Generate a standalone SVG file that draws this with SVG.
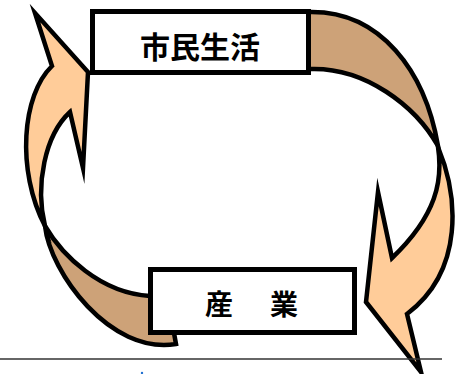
<svg xmlns="http://www.w3.org/2000/svg" width="455" height="374" viewBox="0 0 455 374">
<style>
.edge{stroke:#000;stroke-width:4.5;stroke-linejoin:miter;stroke-miterlimit:10}
.back{fill:#CDA278}
.front{fill:#FFCC99}
.box{fill:#fff;stroke:#000;stroke-width:5}
.lbl{font-family:"Noto Sans CJK JP","Noto Sans CJK SC",sans-serif;font-weight:bold;fill:#000}
</style>
<rect width="455" height="374" fill="#fff"/>
<g id="connectors">
<path class="edge back" d="M300,12 L312,12 C380,12 425,70 438,146 C415,105 365,68 312,69 L300,69 Z"/>
<path class="edge front" d="M438,147 C443,180 437,215 392,258 L378,192 L366,302 L421,372 L407,314 C465,270 458,195 438,147 Z"/>
<path class="edge back" d="M45,226 C50,272 110,355 176,344 L168,300 L150,296 C100,293 62,255 45,226 Z"/>
<path class="edge front" d="M45,226 C35,185 45,135 70,112 L83,168 L88,72 L35,13 L52,66 C22,95 16,170 45,226 Z"/>
</g>
<g id="node-shimin">
<rect class="box" x="92.5" y="11.5" width="216" height="61"/>
<text class="lbl" x="200" y="58" font-size="30" text-anchor="middle">市民生活</text>
</g>
<g id="node-sangyo">
<rect class="box" x="150.5" y="269.5" width="204" height="63"/>
<text class="lbl" x="205" y="315" font-size="28" letter-spacing="4.5">産　業</text>
</g>
<line x1="0" y1="359" x2="442" y2="359" stroke="#333" stroke-width="1.5"/>
<circle cx="142" cy="373" r="1.2" fill="#1E6FD0"/>
</svg>
